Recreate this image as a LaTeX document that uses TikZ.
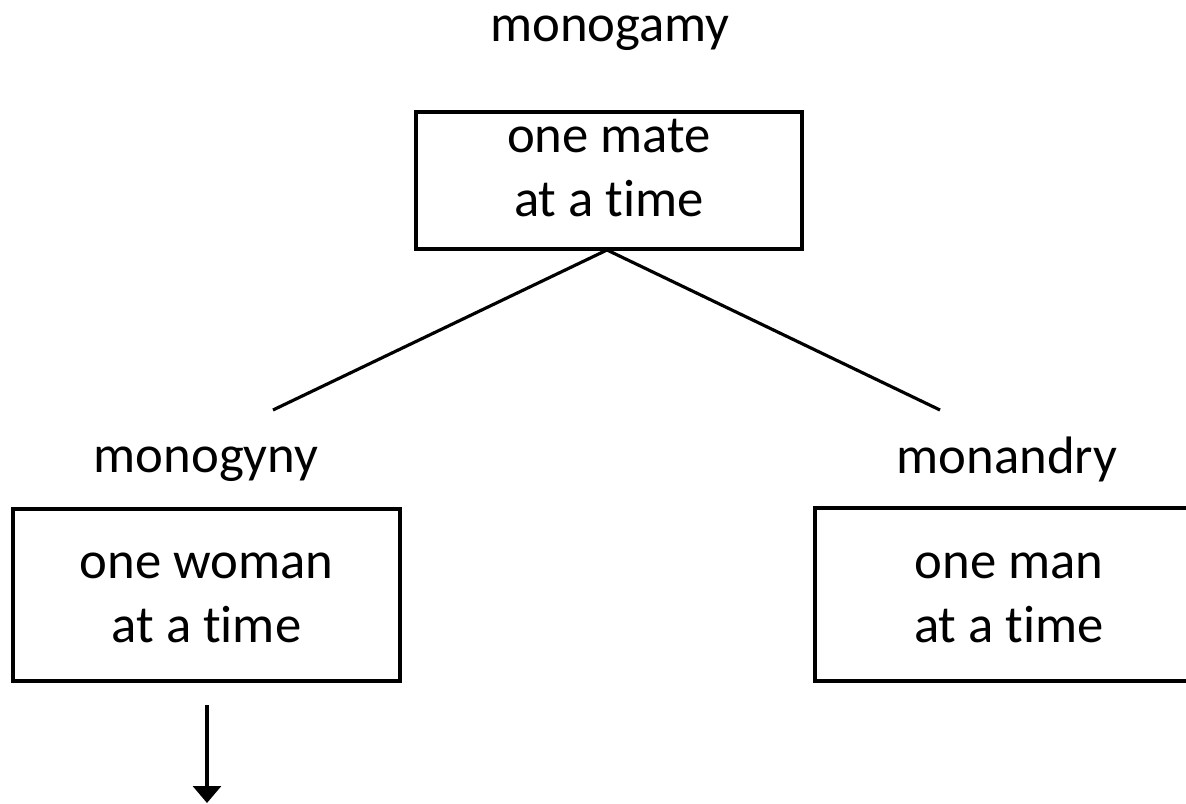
\documentclass[tikz,border=0pt]{standalone}
\usepackage{fontspec}
\setmainfont{Carlito}[Ligatures=NoCommon]
\usepackage{tikz}
\usetikzlibrary{arrows.meta,positioning}

\tikzset{
  matebox/.style={draw, line width=2pt, align=center, inner sep=0pt,
    font=\fontsize{30}{36.5}\selectfont},
  matelabel/.style={inner sep=0pt, anchor=base, font=\fontsize{30}{36}\selectfont},
  branch/.style={line width=1.8pt},
}

\begin{document}
\begin{tikzpicture}[x=0.02cm, y=-0.02cm]
				\clip (0,0) rectangle (1186,804);
				
				% boxes
				\node [matebox, text height=1.88cm, text depth=0.42cm, minimum width=7.72cm, minimum height=2.74cm] (gamy) at (609,180.5) {one mate\\at a time};
				\node [matebox, text height=1.92cm, text depth=0cm, minimum width=7.74cm, minimum height=3.44cm] (gyny) at (206.5,595) {one woman\\at a time};
				\node [matebox, text height=1.92cm, text depth=0cm, minimum width=7.76cm, minimum height=3.46cm] (andry) at (1009,594.5) {one man\\at a time};
				
				% names above the boxes
				\node [matelabel] (gamylbl) at (610,42) {monogamy};
				\node [matelabel] (gynylbl) at (206,472) {monogyny};
				\node [matelabel] (andrylbl) at (1007,473) {monandry};
				
				\coordinate (apex) at (607,250);
				\coordinate (leftend) at (273,410);
				\coordinate (rightend) at (940,410);
				\coordinate (arrowtop) at (207,705);
				\coordinate (arrowbot) at (207,803);
				
				\draw [branch] (leftend) -- (apex) -- (rightend);
				\draw [branch, -{Triangle[width=5.6mm,length=3.4mm]}] (arrowtop) -- (arrowbot);
				\end{tikzpicture}
\end{document}
